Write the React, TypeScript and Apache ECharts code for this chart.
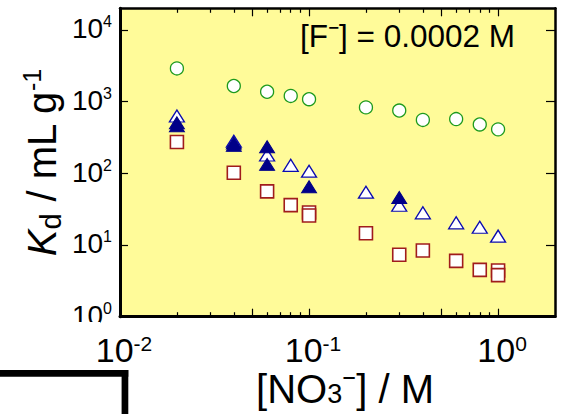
import React, { useEffect, useRef } from 'react';
import * as echarts from 'echarts';

// ---- axis ticks ----
const xLabelValues = [0.01, 0.1, 1];
const xMajorTickValues = [0.01, 0.05, 0.1, 0.5, 1];
const xMinorTickValues = [0.02, 0.03, 0.04, 0.06, 0.07, 0.08, 0.09, 0.2, 0.3, 0.4, 0.6, 0.7, 0.8, 0.9];
const yTickValues = [1, 10, 100, 1000, 10000];

// ---- series data ----
const circleX = [0.02, 0.04, 0.06, 0.08, 0.1, 0.2, 0.3, 0.4, 0.6, 0.8, 1.0];
const circleY = [2900, 1650, 1370, 1200, 1080, 830, 750, 555, 570, 480, 410];

const openTriX = [0.02, 0.04, 0.06, 0.08, 0.1, 0.2, 0.3, 0.4, 0.6, 0.8, 1.0];
const openTriY = [630, 280, 180, 129, 107, 54.5, 35.8, 28.1, 20.4, 17.7, 13.3];

const filledTriX = [0.02, 0.02, 0.04, 0.04, 0.06, 0.06, 0.1, 0.3];
const filledTriY = [505, 460, 265, 245, 235, 133, 65, 46];

const squareX = [0.02, 0.04, 0.06, 0.08, 0.1, 0.1, 0.2, 0.3, 0.4, 0.6, 0.8, 1.0, 1.0];
const squareY = [273, 102, 56, 36, 28.4, 25.8, 14.6, 7.3, 8.4, 6.0, 4.5, 4.4, 3.8];

const FONT = '"Liberation Sans", Arial, Helvetica, sans-serif';

const zip = (xs: number[], ys: number[]) => xs.map((x, i) => [x, ys[i]]);
const powLabel = (v: number) => `{b|10}{s|${Math.round(Math.log10(v))}}`;

export default function App() {
  const ref = useRef<HTMLDivElement>(null);

  useEffect(() => {
    if (!ref.current) return;
    const chart = echarts.init(ref.current, undefined, { renderer: 'svg' });

    const xCommon = {
      type: 'log',
      logBase: 10,
      min: 0.01,
      max: 2,
      splitLine: { show: false },
      minorTick: { show: false },
      minorSplitLine: { show: false },
    };
    const yCommon = {
      type: 'log',
      logBase: 10,
      min: 1,
      max: 20000,
      splitLine: { show: false },
      minorTick: { show: false },
      minorSplitLine: { show: false },
    };

    const option: any = {
      animation: false,
      textStyle: { fontFamily: FONT, color: '#000' },
      grid: {
        left: 120,
        right: 8,
        top: 8.3,
        bottom: 97.3,
        containLabel: false,
        outerBoundsMode: 'none',
        show: true,
        backgroundColor: '#FFFB99',
        borderWidth: 0,
      },
      xAxis: [
        {
          ...xCommon,
          position: 'bottom',
          axisLine: { show: true, onZero: false, lineStyle: { color: '#000', width: 3 } },
          axisTick: {
            show: true,
            inside: true,
            length: 8,
            customValues: xMajorTickValues,
            lineStyle: { color: '#000', width: 1.2 },
          },
          axisLabel: {
            show: true,
            customValues: xLabelValues,
            margin: 16,
            hideOverlap: false,
            color: '#000',
            fontFamily: FONT,
            padding: [0, 0, 0, 8],
            formatter: powLabel,
            rich: {
              b: { fontSize: 34, lineHeight: 34, fontFamily: FONT, color: '#000' },
              s: { fontSize: 21, lineHeight: 18, verticalAlign: 'top', fontFamily: FONT, color: '#000' },
            },
          },
          name: '{a|[NO}{c|3}{m|⁻}{a|] / M}',
          nameLocation: 'middle',
          nameGap: 52.8,
          nameMoveOverlap: false,
          nameTextStyle: {
            padding: [0, 0, 0, 15],
            rich: {
              a: { fontSize: 40, lineHeight: 38, fontFamily: FONT, color: '#000' },
              c: { fontSize: 27, lineHeight: 29, verticalAlign: 'bottom', fontFamily: FONT, color: '#000' },
              m: { fontSize: 42, lineHeight: 38, fontFamily: FONT, color: '#000' },
            },
          },
        },
        {
          ...xCommon,
          position: 'bottom',
          axisLine: { show: false, onZero: false },
          axisTick: {
            show: true,
            inside: true,
            length: 4.5,
            customValues: xMinorTickValues,
            lineStyle: { color: '#000', width: 1.2 },
          },
          axisLabel: { show: false },
        },
        {
          ...xCommon,
          position: 'top',
          axisLine: { show: true, onZero: false, lineStyle: { color: '#000', width: 2.5 } },
          axisTick: {
            show: true,
            inside: true,
            length: 8,
            customValues: xMajorTickValues,
            lineStyle: { color: '#000', width: 1.2 },
          },
          axisLabel: { show: false },
        },
        {
          ...xCommon,
          position: 'top',
          axisLine: { show: false, onZero: false },
          axisTick: {
            show: true,
            inside: true,
            length: 4.5,
            customValues: xMinorTickValues,
            lineStyle: { color: '#000', width: 1.2 },
          },
          axisLabel: { show: false },
        },
      ],
      yAxis: [
        {
          ...yCommon,
          position: 'left',
          axisLine: { show: true, onZero: false, lineStyle: { color: '#000', width: 3 } },
          axisTick: {
            show: true,
            inside: true,
            length: 8,
            customValues: yTickValues,
            lineStyle: { color: '#000', width: 1.2 },
          },
          axisLabel: {
            show: true,
            customValues: yTickValues,
            margin: 8,
            hideOverlap: false,
            color: '#000',
            padding: [0, 0, 2, 0],
            formatter: powLabel,
            rich: {
              b: { fontSize: 28, lineHeight: 30, fontFamily: FONT, color: '#000' },
              s: { fontSize: 16, lineHeight: 20, verticalAlign: 'top', fontFamily: FONT, color: '#000' },
            },
          },
          name: '{k|K}{d|d}{a| / mL g}{s|-1}',
          nameLocation: 'middle',
          nameRotate: 90,
          nameGap: 55,
          nameMoveOverlap: false,
          nameTextStyle: {
            rich: {
              k: { fontSize: 40, lineHeight: 46, fontStyle: 'italic', fontFamily: FONT, color: '#000' },
              d: { fontSize: 29, lineHeight: 46, verticalAlign: 'bottom', fontFamily: FONT, color: '#000' },
              a: { fontSize: 40, lineHeight: 46, fontFamily: FONT, color: '#000' },
              s: { fontSize: 25, lineHeight: 25, verticalAlign: 'top', fontFamily: FONT, color: '#000' },
            },
          },
        },
        {
          ...yCommon,
          position: 'right',
          axisLine: { show: true, onZero: false, lineStyle: { color: '#000', width: 2.5 } },
          axisTick: {
            show: true,
            inside: true,
            length: 9,
            customValues: yTickValues,
            lineStyle: { color: '#000', width: 1.2 },
          },
          axisLabel: { show: false },
        },
      ],
      series: [
        {
          type: 'scatter',
          name: 'circles',
          xAxisIndex: 0,
          yAxisIndex: 0,
          data: zip(circleX, circleY),
          symbol: 'circle',
          symbolSize: 13,
          itemStyle: { color: '#ffffff', borderColor: '#1E9A1E', borderWidth: 1.3, opacity: 1 },
          z: 3,
        },
        {
          type: 'scatter',
          name: 'squares',
          xAxisIndex: 0,
          yAxisIndex: 0,
          data: zip(squareX, squareY),
          symbol: 'rect',
          symbolSize: 13,
          itemStyle: { color: '#ffffff', borderColor: '#A01C1C', borderWidth: 1.6, opacity: 1 },
          z: 3,
        },
        {
          type: 'scatter',
          name: 'open triangles',
          xAxisIndex: 0,
          yAxisIndex: 0,
          data: zip(openTriX, openTriY),
          symbol: 'triangle',
          symbolSize: [15, 12],
          itemStyle: { color: '#ffffff', borderColor: '#0B0BB0', borderWidth: 1.3, opacity: 1 },
          z: 4,
        },
        {
          type: 'scatter',
          name: 'filled triangles',
          xAxisIndex: 0,
          yAxisIndex: 0,
          data: zip(filledTriX, filledTriY),
          symbol: 'triangle',
          symbolSize: [15, 12],
          itemStyle: { color: '#000088', borderColor: '#000088', borderWidth: 1, opacity: 1 },
          z: 5,
        },
      ],
      graphic: [
        {
          type: 'text',
          x: 300,
          y: 18.4,
          z: 100,
          style: {
            text: '{a|[F}{m|⁻}{a|] = 0.0002 M}',
            verticalAlign: 'top',
            align: 'left',
            rich: {
              a: { fontSize: 31.5, lineHeight: 36, fontFamily: FONT, fill: '#000', color: '#000' },
              m: { fontSize: 34, lineHeight: 36, fontFamily: FONT, fill: '#000', color: '#000' },
            },
          },
        },
        {
          type: 'rect',
          z: 100,
          shape: { x: 50, y: 322, width: 50, height: 11 },
          style: { fill: '#ffffff' },
        },
        {
          type: 'rect',
          z: 100,
          shape: { x: 0, y: 370, width: 128.3, height: 6.7 },
          style: { fill: '#000000' },
        },
        {
          type: 'rect',
          z: 100,
          shape: { x: 121.6, y: 370, width: 6.7, height: 50 },
          style: { fill: '#000000' },
        },
      ],
    };

    chart.setOption(option);
    return () => {
      chart.dispose();
    };
  }, []);

  return (
    <div
      ref={ref}
      style={{ position: 'fixed', left: 0, top: 0, width: 563, height: 414, background: '#ffffff' }}
    />
  );
}
